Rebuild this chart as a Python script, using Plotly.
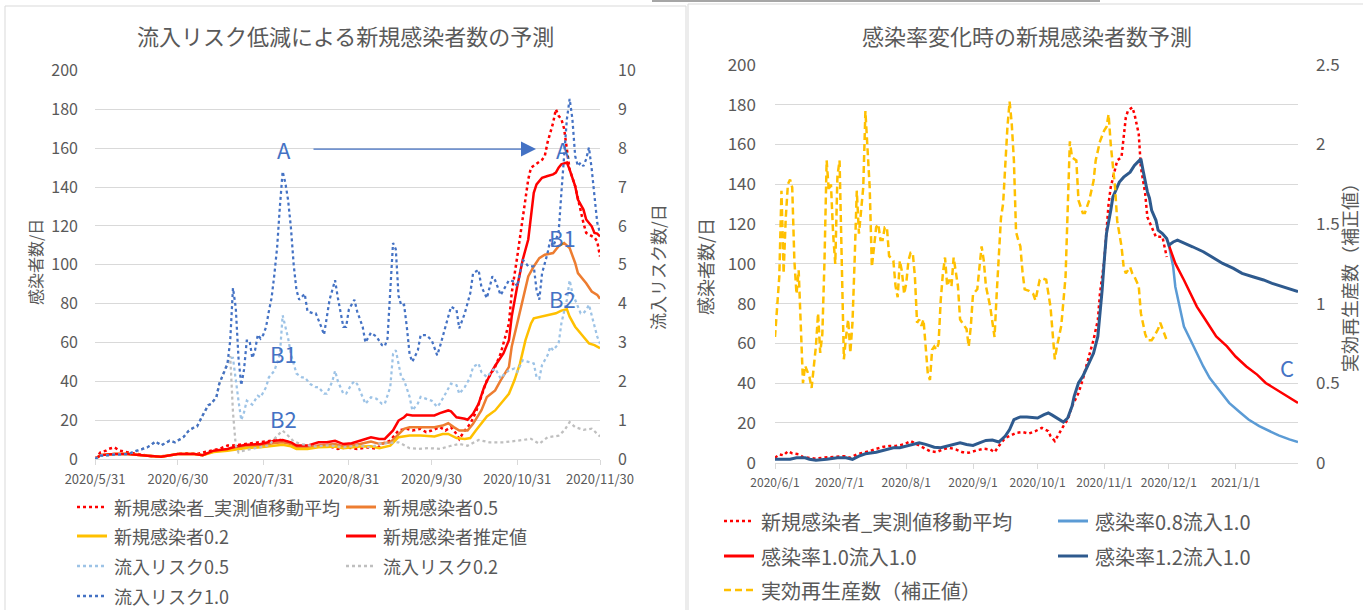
import pandas as pd
import plotly.graph_objects as go

W, H = 1363, 610
FONT = "Noto Sans CJK JP, Noto Sans, sans-serif"
GREY_TXT = "#595959"
GRID = "#d9d9d9"

# ---------------- left chart: days counted from 2020-05-31 ----------------
LEFT_START = "2020-05-31"
LEFT_TICKS = ["2020-05-31", "2020-06-30", "2020-07-31", "2020-08-31",
              "2020-09-30", "2020-10-31", "2020-11-30"]
LEFT_TICK_TEXT = ["2020/5/31", "2020/6/30", "2020/7/31", "2020/8/31",
                  "2020/9/30", "2020/10/31", "2020/11/30"]

obs_l_day = [0, 2, 4, 5, 7, 9, 12, 15, 19, 22, 26, 30, 33, 37, 39, 42, 45, 48, 50, 53,
             56, 60, 64, 66, 68, 71, 73, 77, 80, 84, 88, 91, 95, 99, 102, 104, 107, 110, 113, 115,
             118, 120, 122, 125, 127, 129, 131, 132, 134, 136, 138, 140, 142, 145, 147, 150, 151, 153, 155, 157,
             158, 159, 161, 162, 163, 164, 166, 167, 168, 169, 170, 171, 172, 174, 175, 176, 177, 178, 180, 181,
             182, 183]
obs_l_val = [0, 3.4, 4.3, 5.2, 6.0, 4.3, 3.4, 2.6, 1.7, 1.2, 1.7, 2.6, 2.9, 2.6, 3.4, 4.3, 5.2, 6.9, 6.9, 7.4,
             7.7, 8.6, 9.4, 10.3, 9.4, 8.6, 6.0, 6.0, 6.4, 6.9, 5.2, 6.0, 5.2, 6.0, 5.2, 7.8, 9.5, 14.7, 15.5, 14.7,
             15.5, 13.8, 14.7, 16.4, 14.7, 16.4, 12.9, 10.3, 14.7, 18.1, 24, 31.9, 40.5, 47.4, 54.3, 69.8, 85.3, 104, 125, 144,
             150, 151, 152.6, 154, 156, 163, 173, 180, 176.7, 175, 170, 158, 149, 140.5, 133.6, 126.7, 121.5, 116.4, 114.6, 114,
             112, 104.3]

est_day = [0, 2, 7, 12, 19, 24, 30, 36, 39, 43, 48, 51, 55, 60, 65, 68, 71, 73, 77, 81,
           84, 87, 90, 93, 96, 100, 103, 105, 108, 110, 112, 113, 115, 119, 123, 125, 128, 129, 131, 134,
           135, 137, 139, 141, 143, 145, 148, 150, 151, 153, 155, 157, 159, 160, 162, 164, 166, 167, 168, 169,
           171, 172, 174, 175, 177, 178, 180, 181, 182, 183]
est_val = [0, 2, 2.6, 2.6, 1.7, 1.2, 2.6, 2.6, 2.0, 4.3, 5.2, 6.4, 7.4, 7.7, 9.4, 9.8, 8.6, 6.9, 6.9, 8.6,
           8.6, 9.4, 7.7, 8.1, 9.4, 11.2, 10.3, 10.3, 14.7, 19.8, 21.5, 22.9, 22.4, 22.4, 22.4, 23.6, 25, 24.5, 21.5, 20.7,
           20.2, 23.3, 28.4, 37, 43, 48, 54.3, 61.2, 73.3, 88.8, 102.6, 113, 137, 141.4, 144.8, 145.7, 146.5, 147.4, 150, 151.7,
           152.6, 149, 140.5, 133.6, 128.4, 123.3, 119.8, 116.4, 116, 114.6]

case05_day = [0, 2, 7, 12, 19, 24, 30, 36, 39, 43, 48, 51, 55, 60, 65, 68, 71, 73, 77, 81,
              84, 87, 90, 93, 96, 100, 103, 107, 109, 112, 114, 118, 123, 126, 128, 130, 132, 135, 137, 140,
              142, 145, 147, 150, 151, 153, 155, 157, 159, 161, 163, 166, 168, 170, 172, 174, 175, 178, 180, 182,
              183]
case05_val = [0, 2, 2.6, 2.6, 1.7, 1.2, 2.6, 2.6, 2.0, 4.0, 4.8, 5.8, 6.6, 6.9, 8.2, 8.6, 7.7, 6.0, 6.0, 7.0,
              7.3, 7.7, 6.4, 6.9, 7.7, 9.0, 7.8, 8.6, 11.2, 15.5, 16.4, 16.4, 16.4, 17.2, 18.4, 16.4, 14.7, 14.7, 18.1, 25,
              31.9, 35.3, 40.5, 47.4, 57.8, 69.8, 81.9, 94, 99.1, 103.4, 105.2, 106, 109.5, 111.2, 108.6, 100.9, 95.7, 90.5, 86.2, 84.5,
              82.5]

case02_day = [0, 2, 7, 12, 19, 24, 30, 36, 39, 43, 48, 51, 55, 60, 65, 68, 71, 73, 77, 81,
              84, 87, 90, 93, 96, 100, 103, 107, 110, 114, 118, 123, 126, 128, 131, 134, 136, 138, 140, 142,
              145, 147, 150, 152, 154, 156, 158, 159, 162, 164, 167, 169, 171, 172, 174, 177, 179, 181, 183]
case02_val = [0, 2, 2.6, 2.6, 1.7, 1.2, 2.6, 2.6, 2.0, 3.6, 4.3, 5.0, 5.6, 6.0, 7.0, 7.3, 6.5, 5.2, 5.2, 6.0,
              6.2, 6.4, 5.6, 6.0, 6.4, 6.5, 5.5, 6.9, 11.2, 12.1, 12.1, 11.6, 12.9, 12.9, 10.8, 10.3, 10.8, 14.7, 18.1, 21.9,
              25, 28.4, 33.6, 40.5, 49.1, 61.2, 69.8, 72.4, 73.3, 74.1, 75, 76.4, 77.1, 73.3, 68.1, 62.9, 59.5, 58.6, 57]

risk10_day = [0, 2, 7, 12, 15, 19, 22, 24, 27, 29, 32, 34, 36, 37, 39, 41, 42, 44, 45, 47,
              48, 49, 50, 51, 52, 53, 54, 55, 56, 57, 58, 59, 60, 61, 62, 63, 64, 65, 66, 67,
              68, 69, 70, 71, 72, 73, 74, 76, 77, 79, 80, 82, 83, 85, 87, 88, 90, 91, 92, 94,
              95, 97, 98, 100, 102, 104, 105, 106, 107, 108, 109, 110, 111, 112, 113, 114, 115, 117, 118, 120,
              122, 124, 125, 127, 129, 131, 132, 134, 136, 137, 139, 140, 142, 144, 145, 147, 148, 150, 152, 153,
              155, 157, 159, 160, 161, 162, 164, 165, 166, 168, 169, 170, 171, 172, 173, 174, 175, 176, 177, 178,
              179, 180, 181, 182, 183]
risk10_val = [0, 0.085, 0.11, 0.13, 0.21, 0.30, 0.45, 0.35, 0.47, 0.43, 0.56, 0.73, 0.82, 0.84, 1.12, 1.38, 1.42, 1.59, 1.93, 2.28,
              2.45, 3.05, 4.4, 3.9, 2.6, 1.9, 2.3, 3.05, 3.05, 2.6, 2.8, 3.2, 3.1, 3.2, 3.4, 3.8, 4.15, 4.75, 5.45, 6.5,
              7.4, 7.1, 6.65, 5.95, 5.0, 4.35, 4.1, 4.25, 3.8, 3.75, 3.75, 3.4, 3.2, 4.1, 4.6, 4.15, 3.4, 3.4, 3.85, 4.1,
              3.8, 3.4, 3.0, 3.25, 3.15, 2.93, 2.9, 3.1, 4.2, 5.56, 5.4, 4.2, 3.95, 3.97, 3.4, 2.7, 2.5, 2.8, 3.19, 3.19,
              3.06, 2.67, 2.89, 3.4, 3.92, 3.84, 3.36, 3.75, 4.27, 4.78, 4.87, 4.44, 4.14, 4.7, 4.6, 4.22, 4.35, 4.6, 4.57, 4.44,
              5.13, 4.96, 4.96, 4.35, 4.1, 4.78, 5.3, 5.65, 5.47, 5.82, 6.85, 7.89, 8.75, 9.27, 8.75, 7.8, 7.54, 7.63, 7.54, 7.72,
              8.02, 7.46, 6.68, 6.08, 5.82]

risk05_day = [0, 2, 7, 12, 15, 19, 22, 24, 27, 29, 32, 34, 36, 37, 39, 41, 42, 44, 45, 47,
              48, 49, 50, 51, 52, 53, 54, 55, 57, 59, 60, 62, 63, 65, 67, 68, 69, 70, 71, 73,
              75, 76, 78, 80, 81, 83, 84, 86, 87, 88, 90, 91, 93, 94, 95, 97, 98, 100, 102, 104,
              105, 107, 108, 109, 110, 111, 112, 114, 115, 117, 118, 120, 122, 124, 125, 127, 129, 131, 132, 134,
              136, 137, 139, 140, 142, 144, 145, 147, 148, 150, 152, 153, 155, 157, 159, 160, 161, 162, 164, 165,
              166, 168, 169, 171, 172, 173, 175, 176, 177, 178, 179, 180, 181, 182, 183]
risk05_val = [0, 0.085, 0.11, 0.13, 0.21, 0.30, 0.45, 0.35, 0.47, 0.43, 0.56, 0.73, 0.82, 0.84, 1.12, 1.38, 1.42, 1.59, 1.93, 2.28,
              2.45, 2.6, 2.6, 2.0, 1.5, 1.0, 1.2, 1.5, 1.4, 1.63, 1.59, 1.85, 2.1, 2.27, 2.7, 3.7, 3.4, 3.1, 2.7, 2.2,
              2.1, 2.1, 1.93, 1.85, 1.85, 1.68, 1.68, 2.0, 2.27, 2.0, 1.68, 1.68, 1.93, 2.0, 1.93, 1.59, 1.42, 1.59, 1.55, 1.42,
              1.42, 1.85, 2.7, 2.8, 2.4, 2.1, 2.03, 1.6, 1.25, 1.43, 1.6, 1.55, 1.5, 1.34, 1.43, 1.68, 1.94, 1.9, 1.68, 1.85,
              2.11, 2.37, 2.46, 2.24, 2.11, 2.28, 2.33, 2.07, 2.16, 2.28, 2.33, 2.24, 2.54, 2.5, 2.46, 2.11, 2.07, 2.42, 2.67, 2.89,
              2.8, 2.97, 3.49, 4.1, 4.6, 4.27, 3.92, 3.75, 3.75, 3.84, 3.97, 3.67, 3.4, 3.15, 2.97]

risk02_day = [0, 2, 7, 12, 15, 19, 22, 24, 27, 29, 32, 34, 36, 37, 39, 41, 42, 44, 45, 47,
              48, 49, 50, 51, 52, 53, 56, 60, 63, 66, 68, 70, 72, 75, 80, 85, 90, 95, 100, 103,
              108, 110, 114, 117, 121, 125, 129, 132, 135, 139, 143, 148, 153, 158, 161, 164, 168, 170, 172, 174,
              177, 180, 182, 183]
risk02_val = [0, 0.085, 0.11, 0.13, 0.21, 0.30, 0.45, 0.35, 0.47, 0.43, 0.56, 0.73, 0.82, 0.84, 1.12, 1.38, 1.42, 1.59, 1.93, 2.28,
              2.45, 2.65, 1.2, 0.35, 0.17, 0.2, 0.25, 0.3, 0.35, 0.6, 0.73, 0.6, 0.45, 0.38, 0.32, 0.35, 0.3, 0.35, 0.3, 0.39,
              0.42, 0.43, 0.28, 0.26, 0.28, 0.26, 0.34, 0.39, 0.34, 0.49, 0.43, 0.43, 0.47, 0.52, 0.39, 0.56, 0.6, 0.73, 0.95, 0.82,
              0.75, 0.78, 0.65, 0.58]

# ---------------- right chart: days counted from 2020-06-01 ----------------
RIGHT_START = "2020-06-01"
RIGHT_TICKS = ["2020-06-01", "2020-07-01", "2020-08-01", "2020-09-01",
               "2020-10-01", "2020-11-01", "2020-12-01", "2021-01-01"]
RIGHT_TICK_TEXT = ["2020/6/1", "2020/7/1", "2020/8/1", "2020/9/1",
                   "2020/10/1", "2020/11/1", "2020/12/1", "2021/1/1"]

obs_r_day = [0, 2, 4, 6, 8, 11, 13, 16, 19, 22, 25, 29, 32, 35, 38, 41, 44, 47, 50, 53,
             56, 60, 63, 66, 69, 72, 75, 78, 81, 84, 87, 90, 94, 97, 100, 102, 104, 107, 109, 112,
             115, 118, 121, 124, 127, 128, 130, 132, 134, 136, 138, 141, 143, 145, 148, 150, 151, 153, 154, 155,
             156, 158, 159, 161, 162, 163, 164, 166, 167, 169, 170, 172, 173, 175, 177, 180, 181, 182]
obs_r_val = [2.5, 4.2, 3.7, 5.8, 4.7, 4.2, 2.8, 2.5, 2.0, 2.5, 2.8, 3.3, 3.3, 2.5, 4.2, 5.0, 5.8, 7.0, 7.9, 8.4,
             8.4, 9.2, 10.9, 9.2, 7.5, 5.8, 5.3, 6.7, 7.5, 6.7, 5.3, 5.0, 6.3, 7.0, 6.7, 5.3, 8.4, 12.5, 13.4, 15,
             15.4, 14.7, 15.9, 17.5, 15.9, 13.4, 10.9, 15, 18.4, 21.7, 28.4, 35, 41.8, 50.1, 61.8, 71.8, 85.2, 101.9, 116.9, 130.3,
             138.6, 148.6, 152, 153.7, 165.3, 173.7, 177, 178.7, 175.4, 165.3, 148.6, 135.3, 123.6, 118.6, 113.6, 113.6, 108.6, 103.5]

rate08_day = [183, 185, 186, 188, 190, 193, 196, 199, 202, 207, 211, 216, 220, 225, 230, 234, 239, 243]
rate08_val = [109.4, 98.5, 88.5, 78.5, 68.5, 61.8, 55.1, 48.4, 42.6, 35.9, 30.1, 25.4, 21.7, 18.4, 15.9, 13.7, 11.7, 10.4]

rate10_day = [183, 186, 190, 193, 196, 199, 202, 205, 210, 214, 219, 224, 228, 233, 238, 243]
rate10_val = [109.4, 100.2, 91.9, 85.2, 78.5, 73.5, 68.5, 63.5, 58.5, 53.4, 48.4, 44.3, 40.1, 36.7, 33.4, 30.1]

rate12_day = [0, 7, 10, 14, 16, 19, 24, 29, 33, 36, 39, 42, 47, 52, 55, 58, 61, 64, 67, 70,
              74, 77, 80, 83, 86, 89, 92, 95, 98, 101, 104, 107, 109, 111, 114, 117, 120, 122, 125, 127,
              129, 132, 134, 136, 138, 139, 141, 143, 145, 148, 150, 151, 152, 153, 154, 156, 157, 158, 159, 160,
              162, 164, 165, 167, 169, 170, 171, 173, 174, 175, 177, 178, 180, 182, 183, 185, 187, 190, 194, 199,
              203, 208, 213, 217, 222, 227, 231, 236, 241, 243]
rate12_val = [1.7, 1.7, 2.5, 2.5, 1.7, 1.2, 1.7, 2.5, 2.5, 1.7, 3.3, 4.5, 5.3, 6.7, 7.5, 7.5, 8.4, 9.2, 10, 9.2,
              7.8, 7.5, 8.4, 9.2, 10, 9.2, 8.7, 10, 11.2, 11.4, 10.4, 13.4, 16.7, 21.7, 23, 23, 22.5, 22.5, 24.2, 25,
              23.8, 21.7, 20.4, 22.5, 28.4, 33.4, 40.1, 43.4, 48.4, 55.1, 63.5, 73.5, 86.8, 101.9, 115.2, 126.9, 133.6, 136.1, 138.6, 141.1,
              143.6, 145.3, 146.1, 149.5, 152, 152.8, 147, 136.3, 133, 126.9, 121.9, 116.9, 115.2, 112.7, 109.4, 111, 111.9, 110.6, 108.6, 106.1,
              103.5, 100.2, 97.7, 95.2, 93.5, 91.9, 90.2, 88.5, 86.8, 86]

rt_day = [0, 1, 2, 3, 4, 5, 6, 7, 8, 9, 10, 11, 12, 13, 14, 16, 17, 18, 19, 20,
          21, 22, 23, 24, 25, 26, 27, 28, 29, 30, 31, 32, 33, 34, 35, 36, 37, 38, 39, 40,
          41, 42, 43, 44, 45, 46, 47, 48, 49, 50, 51, 52, 53, 55, 56, 57, 58, 59, 60, 61,
          62, 63, 64, 65, 66, 67, 68, 69, 70, 71, 72, 73, 74, 75, 76, 77, 78, 79, 80, 81,
          82, 83, 85, 86, 87, 88, 89, 90, 91, 92, 94, 95, 96, 97, 98, 100, 101, 102, 103, 104,
          105, 106, 107, 108, 109, 110, 111, 112, 113, 114, 115, 116, 118, 120, 121, 123, 124, 126, 128, 129,
          130, 131, 133, 135, 136, 137, 138, 140, 141, 143, 144, 146, 148, 149, 151, 153, 154, 155, 156, 157,
          158, 159, 161, 162, 163, 165, 166, 167, 169, 170, 172, 173, 175, 176, 178, 179, 180, 182]
rt_val = [0.79, 0.98, 1.17, 1.71, 1.19, 1.54, 1.75, 1.78, 1.73, 1.27, 1.06, 1.21, 0.9, 0.5, 0.61, 0.54, 0.47, 0.61, 0.73, 0.94,
          0.69, 0.81, 1.27, 1.9, 1.71, 1.75, 1.44, 1.25, 1.8, 1.9, 1.17, 0.65, 0.79, 0.9, 0.69, 0.88, 1.27, 1.71, 1.44, 1.57,
          1.73, 2.21, 2.0, 1.73, 1.23, 1.36, 1.48, 1.5, 1.4, 1.4, 1.48, 1.48, 1.3, 1.27, 1.11, 1.04, 1.27, 1.2, 1.06, 1.13,
          1.27, 1.32, 1.32, 1.17, 0.88, 0.9, 0.86, 0.9, 0.71, 0.56, 0.52, 0.71, 0.73, 0.71, 0.75, 1.02, 1.19, 1.29, 1.11, 1.15,
          1.11, 1.29, 1.11, 0.9, 0.88, 0.86, 0.84, 0.73, 0.86, 1.06, 1.09, 1.23, 1.36, 1.27, 1.11, 0.98, 0.88, 0.79, 1.06, 1.29,
          1.54, 1.63, 1.9, 2.11, 2.27, 2.13, 1.9, 1.45, 1.4, 1.36, 1.2, 1.09, 1.08, 1.06, 1.02, 1.15, 1.16, 1.15, 0.98, 0.81,
          0.65, 0.73, 0.86, 1.17, 1.59, 2.02, 1.92, 1.9, 1.65, 1.57, 1.57, 1.65, 1.77, 1.9, 2.02, 2.09, 2.11, 2.19, 2.0, 1.86,
          1.73, 1.52, 1.36, 1.23, 1.19, 1.23, 1.19, 1.17, 1.11, 0.94, 0.81, 0.77, 0.77, 0.79, 0.84, 0.88, 0.84, 0.77]


def to_dates(start, days):
    return pd.Timestamp(start) + pd.to_timedelta(days, unit="D")


def px(x):
    return x / W


def py(y):
    return 1 - y / H


fig = go.Figure()


def add_line(start, days, vals, xa, ya, color, width, dash="solid"):
    fig.add_trace(go.Scatter(
        x=to_dates(start, days), y=vals, xaxis=xa, yaxis=ya, mode="lines",
        line=dict(color=color, width=width, dash=dash), showlegend=False,
        hoverinfo="skip"))


# left chart: infections (left axis) and inflow risk (right axis)
add_line(LEFT_START, obs_l_day, obs_l_val, "x", "y", "#FF0000", 2.5, "dot")
add_line(LEFT_START, case05_day, case05_val, "x", "y", "#ED7D31", 2.5)
add_line(LEFT_START, case02_day, case02_val, "x", "y", "#FFC000", 2.5)
add_line(LEFT_START, est_day, est_val, "x", "y", "#FF0000", 2.5)
add_line(LEFT_START, risk05_day, risk05_val, "x", "y2", "#9DC3E6", 2.25, "dot")
add_line(LEFT_START, risk02_day, risk02_val, "x", "y2", "#BFBFBF", 2.25, "dot")
add_line(LEFT_START, risk10_day, risk10_val, "x", "y2", "#4472C4", 2.25, "dot")

# right chart: scenarios by infection rate (left axis) and Rt (right axis)
NAVY = "#2E5A8E"
add_line(RIGHT_START, obs_r_day, obs_r_val, "x2", "y3", "#FF0000", 2.5, "dot")
add_line(RIGHT_START, rate08_day, rate08_val, "x2", "y3", "#5B9BD5", 2.5)
add_line(RIGHT_START, rate10_day, rate10_val, "x2", "y3", "#FF0000", 2.5)
add_line(RIGHT_START, rate12_day, rate12_val, "x2", "y3", NAVY, 3)
add_line(RIGHT_START, rt_day, rt_val, "x2", "y4", "#FFC000", 2.5, "7px,4px")

tick_y = dict(size=16, color=GREY_TXT, family=FONT)
common = dict(automargin=False, zeroline=False)

fig.update_layout(
    template="none",
    width=W, height=H, margin=dict(l=0, r=0, t=0, b=0, pad=0, autoexpand=False),
    paper_bgcolor="white", plot_bgcolor="white",
    font=dict(family=FONT, color=GREY_TXT),
    xaxis=dict(domain=[px(95), px(600)], anchor="y", type="date",
               range=["2020-05-31", "2020-11-30"],
               tickvals=LEFT_TICKS, ticktext=LEFT_TICK_TEXT,
               tickfont=dict(size=13, color=GREY_TXT, family=FONT),
               showgrid=False, showline=True, linecolor=GRID, linewidth=1,
               ticks="outside", ticklen=5, tickcolor=GRID, ticklabelstandoff=3, **common),
    yaxis=dict(domain=[py(459), py(70.5)], anchor="x", range=[0, 200], dtick=20,
               gridcolor=GRID, showline=False, ticks="",
               tickfont=tick_y, ticklabelstandoff=16, **common),
    yaxis2=dict(overlaying="y", side="right", anchor="x", range=[0, 10], dtick=1,
                showgrid=False, showline=False, ticks="",
                tickfont=tick_y, ticklabelstandoff=17, **common),
    xaxis2=dict(domain=[px(775), px(1298)], anchor="y3", type="date",
                range=["2020-06-01", "2021-01-30"],
                tickvals=RIGHT_TICKS, ticktext=RIGHT_TICK_TEXT,
                tickfont=dict(size=12, color=GREY_TXT, family=FONT),
                showgrid=False, showline=True, linecolor=GRID, linewidth=1,
                ticks="outside", ticklen=5, tickcolor=GRID, ticklabelstandoff=4, **common),
    yaxis3=dict(domain=[py(462.7), py(65)], anchor="x2", range=[0, 200], dtick=20,
                gridcolor=GRID, showline=False, ticks="",
                tickfont=dict(size=17, color=GREY_TXT, family=FONT), ticklabelstandoff=18, **common),
    yaxis4=dict(overlaying="y3", side="right", anchor="x2", range=[0, 2.5], dtick=0.5,
                showgrid=False, showline=False, ticks="",
                tickfont=dict(size=17, color=GREY_TXT, family=FONT), ticklabelstandoff=17, **common),
)

shapes = []
annotations = []


def text(x, y, s, size, color=GREY_TXT, angle=0, anchor="center"):
    annotations.append(dict(x=px(x), y=py(y), xref="paper", yref="paper", text=s,
                            showarrow=False, textangle=angle, xanchor=anchor,
                            yanchor="middle", font=dict(size=size, color=color, family=FONT)))


# chart frames
shapes.append(dict(type="rect", xref="paper", yref="paper", x0=px(5), x1=px(686),
                   y0=py(640), y1=py(6), line=dict(color=GRID, width=1)))
shapes.append(dict(type="rect", xref="paper", yref="paper", x0=px(688), x1=px(1380),
                   y0=py(640), y1=py(4), line=dict(color=GRID, width=1)))
shapes.append(dict(type="line", xref="paper", yref="paper", x0=px(652), x1=px(1100),
                   y0=py(1), y1=py(1), line=dict(color="#a6a6a6", width=2)))

# titles and axis titles
text(345, 35, "流入リスク低減による新規感染者数の予測", 22)
text(1027, 35, "感染率変化時の新規感染者数予測", 22)
text(35, 262, "感染者数/日", 16, angle=-90)
text(657, 267, "流入リスク数/日", 17, angle=-90)
text(705, 267, "感染者数/日", 18, angle=-90)
text(1349, 273, "実効再生産数（補正値）", 18, angle=-90)

# markers on the left chart
BLUE = "#4472C4"
text(284, 149, "A", 22, BLUE)
text(563, 149, "A", 22, BLUE)
text(283, 353, "B1", 22, BLUE)
text(283, 418, "B2", 22, BLUE)
text(562, 237, "B1", 22, BLUE)
text(562, 298, "B2", 22, BLUE)
text(1287, 367, "C", 22, BLUE)
annotations.append(dict(x=px(536), y=py(149), xref="paper", yref="paper", text="",
                        showarrow=True, ax=312 - 536, ay=0, arrowhead=2,
                        arrowsize=2.4, arrowwidth=1.25, arrowcolor=BLUE))


# legends
def legend_item(x0, y, label, color, dash, size, width=2.5):
    shapes.append(dict(type="line", xref="paper", yref="paper", x0=px(x0), x1=px(x0 + 30),
                       y0=py(y), y1=py(y), line=dict(color=color, width=width, dash=dash)))
    text(x0 + 35, y, label, size, anchor="left")


LS = 18
legend_item(77, 507, "新規感染者_実測値移動平均", "#FF0000", "dot", LS)
legend_item(346, 507, "新規感染者0.5", "#ED7D31", "solid", LS, 3)
legend_item(77, 536, "新規感染者0.2", "#FFC000", "solid", LS, 3)
legend_item(346, 536, "新規感染者推定値", "#FF0000", "solid", LS, 3)
legend_item(77, 566, "流入リスク0.5", "#9DC3E6", "dot", LS)
legend_item(346, 566, "流入リスク0.2", "#BFBFBF", "dot", LS)
legend_item(77, 596, "流入リスク1.0", BLUE, "dot", LS)

RS = 20
legend_item(724, 521, "新規感染者_実測値移動平均", "#FF0000", "dot", RS)
legend_item(1058, 521, "感染率0.8流入1.0", "#5B9BD5", "solid", RS, 3)
legend_item(724, 556, "感染率1.0流入1.0", "#FF0000", "solid", RS, 3)
legend_item(1058, 556, "感染率1.2流入1.0", NAVY, "solid", RS, 3)
legend_item(724, 590, "実効再生産数（補正値）", "#FFC000", "7px,4px", RS)

fig.update_layout(shapes=shapes, annotations=annotations)
fig.write_html("out.html")
